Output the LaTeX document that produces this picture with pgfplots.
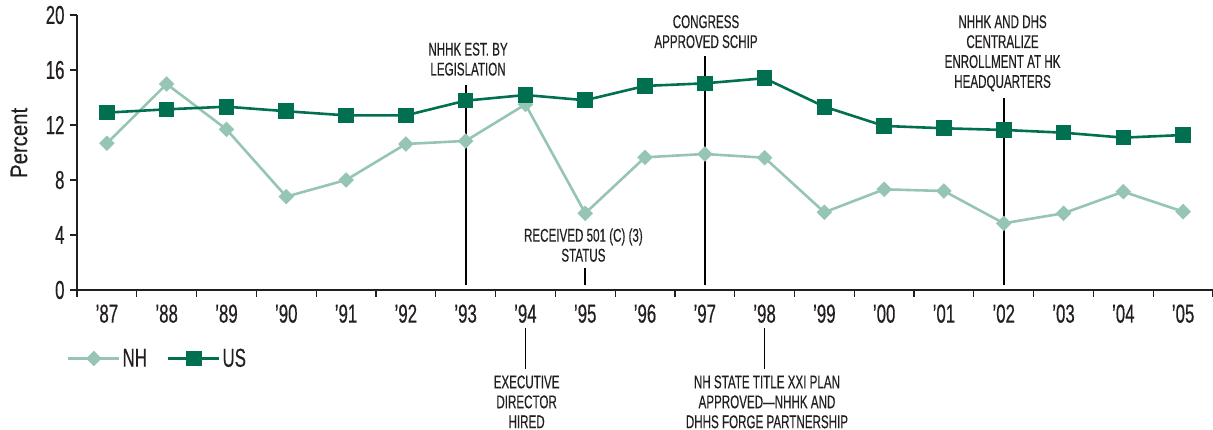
\documentclass[border=0pt]{standalone}
\usepackage{pgfplots}
\pgfplotsset{compat=1.18}
\usepackage{fontspec}
\setmainfont{Liberation Sans}
\newfontfamily\condfont[FakeStretch=0.65, FakeBold=0.4]{Liberation Sans}
\newfontfamily\annfont[FakeStretch=0.63, FakeBold=0.4]{Liberation Sans}
\newfontfamily\labfont[FakeStretch=0.85, FakeBold=0.3]{Liberation Sans}
\definecolor{NHc}{RGB}{150,197,180}
\definecolor{USc}{RGB}{0,112,80}
\definecolor{axc}{RGB}{35,31,32}
\newcommand{\tickf}{\condfont\fontsize{26}{26}\selectfont}
\newcommand{\annf}{\annfont\fontsize{18.5}{20}\selectfont}
\begin{document}
\begin{tikzpicture}
\begin{axis}[
  scale only axis, width=1136bp, height=275bp,
  xmin=-0.5, xmax=18.5, ymin=0, ymax=20,
  clip=false,
  axis lines*=left,
  axis line style={axc, line width=1.2bp},
  tick style={axc, line width=1.2bp},
  tick align=outside, major tick length=7bp,
  xtick={-0.5,0.5,...,18.5},
  x tick label as interval,
  xticklabels={’87,’88,’89,’90,’91,’92,’93,’94,’95,’96,’97,’98,’99,’00,’01,’02,’03,’04,’05},
  ytick={0,4,8,12,16,20},
  /pgf/number format/assume math mode=true,
  ticklabel style={font=\tickf, text=axc},
  xticklabel style={yshift=-4bp},
  yticklabel style={xshift=-2bp},
  ylabel={Percent},
  ylabel style={at={(rel axis cs:-0.051,0.535)}, anchor=center, font=\labfont\fontsize{24}{24}\selectfont, text=axc},
  legend style={draw=none, fill=none, inner sep=0pt, font=\tickf, text=axc,
    at={(axis cs:-0.67,-4.98)}, anchor=west,
    nodes={inner sep=2bp},
    /tikz/every even column/.append style={column sep=18bp}},
  legend columns=2,
  legend image code/.code={\draw[mark repeat=2,mark phase=2,#1] plot coordinates {(0bp,0bp) (25.5bp,0bp) (51bp,0bp)};},
]
\coordinate (bbA) at (axis cs:-1.788,21.09);
\coordinate (bbB) at (axis cs:18.5,-10.18);
% white grid breaks
\draw[white, line width=1bp] (axis cs:-0.45,4) -- (axis cs:18.5,4);
\draw[white, line width=1bp] (axis cs:-0.45,8) -- (axis cs:18.5,8);
\draw[white, line width=1bp] (axis cs:-0.45,12) -- (axis cs:18.5,12);
\draw[white, line width=1bp] (axis cs:-0.45,16) -- (axis cs:18.5,16);
% annotation lines
\draw[black, line width=1.8bp] (axis cs:6,0.36) -- (axis cs:6,14.9);
\draw[black, line width=1.8bp] (axis cs:10,0.36) -- (axis cs:10,17.0);
\draw[black, line width=1.8bp] (axis cs:15,0.36) -- (axis cs:15,13.96);
\draw[black, line width=1.8bp] (axis cs:8,0.36) -- (axis cs:8,1.6);
\draw[black, line width=1.8bp] (axis cs:7,-2.76) -- (axis cs:7,-5.75);
\draw[black, line width=1.8bp] (axis cs:11,-2.76) -- (axis cs:11,-5.75);
% annotation texts
\node[anchor=north, inner sep=0pt, align=center, font=\annf, text=axc] at (axis cs:6.04,18.0) {NHHK EST. BY\\LEGISLATION};
\node[anchor=north, inner sep=0pt, align=center, font=\annf, text=axc] at (axis cs:10.02,20.0) {CONGRESS\\APPROVED SCHIP};
\node[anchor=north, inner sep=0pt, align=center, font=\annf, text=axc] at (axis cs:14.98,20.0) {NHHK AND DHS\\CENTRALIZE\\ENROLLMENT AT HK\\HEADQUARTERS};
\node[anchor=north, inner sep=0pt, align=center, font=\annf, text=axc] at (axis cs:7.97,4.5) {RECEIVED 501 (C) (3)\\STATUS};
\node[anchor=north, inner sep=0pt, align=center, font=\annf, text=axc] at (axis cs:7.02,-6.2) {EXECUTIVE\\DIRECTOR\\HIRED};
\node[anchor=north, inner sep=0pt, align=center, font=\annf, text=axc] at (axis cs:11.04,-6.2) {NH STATE TITLE XXI PLAN\\APPROVED—NHHK AND\\DHHS FORGE PARTNERSHIP};
\addplot[color=NHc, line width=2.6bp, mark=square*, mark size=4.2bp, mark options={rotate=45, fill=NHc, draw=NHc, solid}] coordinates {
(0,10.67) (1,14.98) (2,11.68) (3,6.79) (4,8.0) (5,10.62) (6,10.84) (7,13.5) (8,5.58) (9,9.65)
(10,9.89) (11,9.62) (12,5.65) (13,7.32) (14,7.2) (15,4.85) (16,5.58) (17,7.15) (18,5.7)};
\addlegendentry{NH}
\addplot[color=USc, line width=2.6bp, mark=square*, mark size=6.5bp, mark options={fill=USc, draw=USc, solid}] coordinates {
(0,12.9) (1,13.14) (2,13.33) (3,13.0) (4,12.7) (5,12.7) (6,13.77) (7,14.18) (8,13.8) (9,14.84)
(10,15.03) (11,15.4) (12,13.33) (13,11.93) (14,11.76) (15,11.64) (16,11.44) (17,11.08) (18,11.27)};
\addlegendentry{US}
\end{axis}
\pgfresetboundingbox
\path[use as bounding box] (bbA) rectangle (bbB);
\end{tikzpicture}
\end{document}
